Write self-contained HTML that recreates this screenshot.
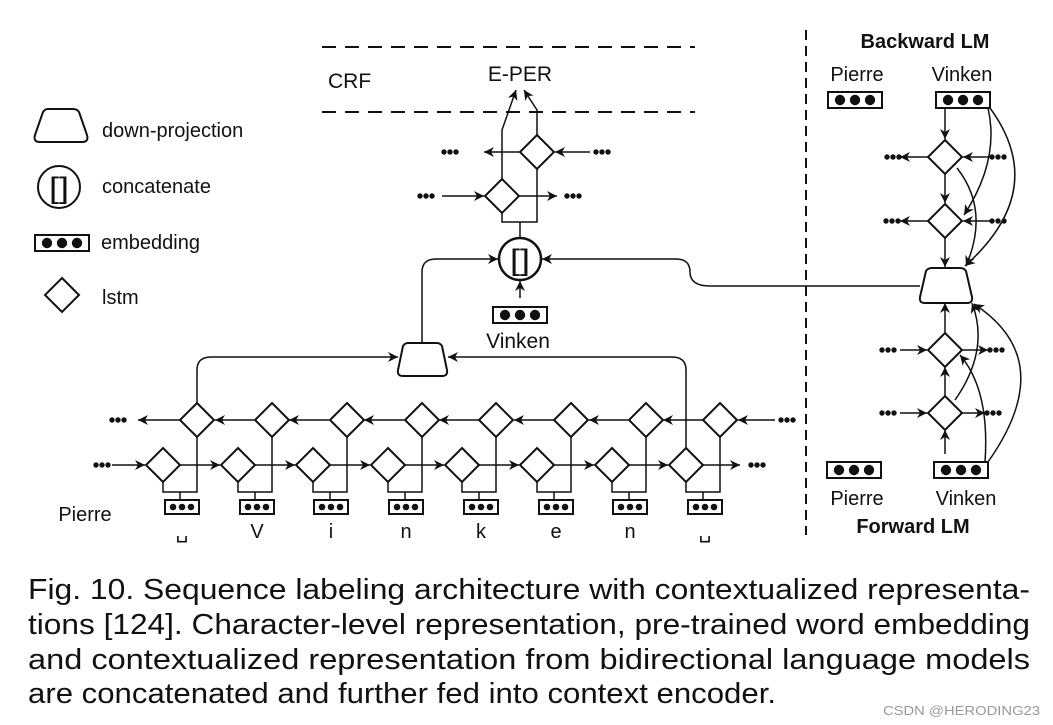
<!DOCTYPE html>
<html><head><meta charset="utf-8"><style>
html,body{margin:0;padding:0;background:#fff;}
svg{display:block;font-family:"Liberation Sans",sans-serif;}
</style></head><body>
<svg width="1053" height="725" viewBox="0 0 1053 725" xmlns="http://www.w3.org/2000/svg">
<defs>
<marker id="a" viewBox="0 0 10 10" refX="10" refY="5" markerWidth="10" markerHeight="10" orient="auto-start-reverse" markerUnits="userSpaceOnUse"><path d="M0,0 L10,5 L0,10 L3,5 z" fill="#111"/></marker>
<g id="dm"><polygon points="0,-17 17,0 0,17 -17,0" fill="#fff" stroke="#111" stroke-width="2"/></g>
<g id="dt" fill="#111"><circle cx="-6" cy="0" r="2.7"/><circle cx="0" cy="0" r="2.7"/><circle cx="6" cy="0" r="2.7"/></g>
<g id="es"><rect x="-17" y="-7" width="34" height="14" fill="#fff" stroke="#111" stroke-width="2"/><g fill="#111"><circle cx="-9" r="3.3"/><circle cx="0" r="3.3"/><circle cx="9" r="3.3"/></g></g>
<g id="eb"><rect x="-27" y="-8" width="54" height="16" fill="#fff" stroke="#111" stroke-width="2"/><g fill="#111"><circle cx="-15" r="5.2"/><circle cx="0" r="5.2"/><circle cx="15" r="5.2"/></g></g>
</defs>
<g stroke="#111" stroke-width="1.5" fill="none">
<line x1="322" y1="47" x2="695" y2="47" stroke-dasharray="14,9" stroke-width="2"/>
<line x1="322" y1="112" x2="695" y2="112" stroke-dasharray="14,9" stroke-width="2"/>
<line x1="806" y1="30" x2="806" y2="535" stroke-dasharray="10,6" stroke-width="2"/>
<path d="M502,179 L502,130 L516,90" marker-end="url(#a)"/>
<path d="M537,135 L537,110 L524,90" marker-end="url(#a)"/>
<path d="M502,213 V222 H537 V169"/>
<line x1="520" y1="222" x2="520" y2="238"/>
<line x1="520" y1="152" x2="484" y2="152" marker-end="url(#a)"/>
<line x1="590" y1="152" x2="555" y2="152" marker-end="url(#a)"/>
<line x1="442" y1="196" x2="484" y2="196" marker-end="url(#a)"/>
<line x1="519" y1="196" x2="557" y2="196" marker-end="url(#a)"/>
<line x1="520" y1="298" x2="520" y2="281" marker-end="url(#a)"/>
<path d="M422,343 V272 Q422,259 436,259 H498" marker-end="url(#a)"/>
<path d="M920,286 H710 Q690,286 690,272 Q690,259 676,259 H542" marker-end="url(#a)"/>
<path d="M197,403 V370 Q197,357 211,357 H398" marker-end="url(#a)"/>
<path d="M686,448 V370 Q686,357 672,357 H448" marker-end="url(#a)"/>
<line x1="112" y1="465" x2="145" y2="465" marker-end="url(#a)"/>
<line x1="180" y1="465" x2="220" y2="465" marker-end="url(#a)"/>
<line x1="255" y1="465" x2="295" y2="465" marker-end="url(#a)"/>
<line x1="330" y1="465" x2="370" y2="465" marker-end="url(#a)"/>
<line x1="405" y1="465" x2="444" y2="465" marker-end="url(#a)"/>
<line x1="479" y1="465" x2="519" y2="465" marker-end="url(#a)"/>
<line x1="554" y1="465" x2="594" y2="465" marker-end="url(#a)"/>
<line x1="629" y1="465" x2="668" y2="465" marker-end="url(#a)"/>
<line x1="703" y1="465" x2="740" y2="465" marker-end="url(#a)"/>
<line x1="775" y1="420" x2="738" y2="420" marker-end="url(#a)"/>
<line x1="703" y1="420" x2="663" y2="420" marker-end="url(#a)"/>
<line x1="628" y1="420" x2="589" y2="420" marker-end="url(#a)"/>
<line x1="554" y1="420" x2="514" y2="420" marker-end="url(#a)"/>
<line x1="479" y1="420" x2="439" y2="420" marker-end="url(#a)"/>
<line x1="404" y1="420" x2="364" y2="420" marker-end="url(#a)"/>
<line x1="329" y1="420" x2="289" y2="420" marker-end="url(#a)"/>
<line x1="254" y1="420" x2="215" y2="420" marker-end="url(#a)"/>
<line x1="180" y1="420" x2="138" y2="420" marker-end="url(#a)"/>
<path d="M163,482 V492 H197 V437 M180,492 V500"/>
<path d="M238,482 V492 H272 V437 M255,492 V500"/>
<path d="M313,482 V492 H347 V437 M330,492 V500"/>
<path d="M388,482 V492 H422 V437 M405,492 V500"/>
<path d="M462,482 V492 H496 V437 M479,492 V500"/>
<path d="M537,482 V492 H571 V437 M554,492 V500"/>
<path d="M612,482 V492 H646 V437 M629,492 V500"/>
<path d="M686,482 V492 H720 V437 M703,492 V500"/>
<line x1="945" y1="100" x2="945" y2="139" marker-end="url(#a)"/>
<line x1="945" y1="174" x2="945" y2="203" marker-end="url(#a)"/>
<line x1="945" y1="238" x2="945" y2="267" marker-end="url(#a)"/>
<line x1="928" y1="157" x2="900" y2="157" marker-end="url(#a)"/>
<line x1="990" y1="157" x2="963" y2="157" marker-end="url(#a)"/>
<line x1="928" y1="221" x2="900" y2="221" marker-end="url(#a)"/>
<line x1="990" y1="221" x2="963" y2="221" marker-end="url(#a)"/>
<path d="M988,108 Q1000,160 964,215" marker-end="url(#a)"/>
<path d="M990,108 Q1050,190 965,266" marker-end="url(#a)"/>
<path d="M957,168 Q990,210 966,266" marker-end="url(#a)"/>
<line x1="945" y1="454" x2="945" y2="430" marker-end="url(#a)"/>
<line x1="945" y1="396" x2="945" y2="367" marker-end="url(#a)"/>
<line x1="945" y1="333" x2="945" y2="303" marker-end="url(#a)"/>
<line x1="900" y1="350" x2="927" y2="350" marker-end="url(#a)"/>
<line x1="962" y1="350" x2="988" y2="350" marker-end="url(#a)"/>
<line x1="900" y1="413" x2="927" y2="413" marker-end="url(#a)"/>
<line x1="962" y1="413" x2="985" y2="413" marker-end="url(#a)"/>
<path d="M985,462 Q990,390 960,355" marker-end="url(#a)"/>
<path d="M988,462 Q1060,360 974,304" marker-end="url(#a)"/>
<path d="M955,400 Q990,350 972,303" marker-end="url(#a)"/>
</g>
<use href="#dm" x="537" y="152"/><use href="#dm" x="502" y="196"/>
<use href="#dt" x="450" y="152"/><use href="#dt" x="602" y="152"/>
<use href="#dt" x="426" y="196"/><use href="#dt" x="573" y="196"/>
<circle cx="520" cy="259" r="21" fill="#fff" stroke="#111" stroke-width="2.5"/>
<text x="520" y="270" font-size="30" text-anchor="middle" fill="#111" textLength="20" lengthAdjust="spacingAndGlyphs">[]</text>
<use href="#eb" x="520" y="315"/>
<text x="518" y="348" font-size="21" text-anchor="middle" fill="#111">Vinken</text>
<text x="328" y="88" font-size="21" fill="#111">CRF</text>
<text x="520" y="81" font-size="21" text-anchor="middle" fill="#111">E-PER</text>
<path d="M408,343 H437 Q440,343 442,346 L447,370 Q448,376 442,376 H403 Q397,376 398,370 L403,346 Q405,343 408,343 Z" fill="#fff" stroke="#111" stroke-width="2"/>
<use href="#dm" x="163" y="465"/><use href="#dm" x="238" y="465"/><use href="#dm" x="313" y="465"/><use href="#dm" x="388" y="465"/><use href="#dm" x="462" y="465"/><use href="#dm" x="537" y="465"/><use href="#dm" x="612" y="465"/><use href="#dm" x="686" y="465"/>
<use href="#dm" x="197" y="420"/><use href="#dm" x="272" y="420"/><use href="#dm" x="347" y="420"/><use href="#dm" x="422" y="420"/><use href="#dm" x="496" y="420"/><use href="#dm" x="571" y="420"/><use href="#dm" x="646" y="420"/><use href="#dm" x="720" y="420"/>
<use href="#dt" x="102" y="465"/><use href="#dt" x="757" y="465"/><use href="#dt" x="118" y="420"/><use href="#dt" x="787" y="420"/>
<use href="#es" x="182" y="507"/><use href="#es" x="257" y="507"/><use href="#es" x="331" y="507"/><use href="#es" x="406" y="507"/><use href="#es" x="481" y="507"/><use href="#es" x="556" y="507"/><use href="#es" x="630" y="507"/><use href="#es" x="705" y="507"/>
<g font-size="20" fill="#111" text-anchor="middle">
<text x="85" y="521">Pierre</text>
<text x="182" y="538">␣</text><text x="257" y="538">V</text><text x="331" y="538">i</text><text x="406" y="538">n</text><text x="481" y="538">k</text><text x="556" y="538">e</text><text x="630" y="538">n</text><text x="705" y="538">␣</text>
</g>
<text x="925" y="48" font-size="20" font-weight="bold" text-anchor="middle" fill="#111">Backward LM</text>
<text x="913" y="533" font-size="20" font-weight="bold" text-anchor="middle" fill="#111">Forward LM</text>
<g font-size="20" fill="#111" text-anchor="middle">
<text x="857" y="81">Pierre</text><text x="962" y="81">Vinken</text>
<text x="857" y="505">Pierre</text><text x="966" y="505">Vinken</text>
</g>
<use href="#eb" x="855" y="100"/><use href="#eb" x="963" y="100"/>
<use href="#eb" x="854" y="470"/><use href="#eb" x="961" y="470"/>
<use href="#dm" x="945" y="157"/><use href="#dm" x="945" y="221"/>
<use href="#dm" x="945" y="350"/><use href="#dm" x="945" y="413"/>
<use href="#dt" x="893" y="157"/><use href="#dt" x="998" y="157"/>
<use href="#dt" x="892" y="221"/><use href="#dt" x="998" y="221"/>
<use href="#dt" x="888" y="350"/><use href="#dt" x="996" y="350"/>
<use href="#dt" x="888" y="413"/><use href="#dt" x="993" y="413"/>
<path d="M932,268 H960 Q964,268 966,271 L972,297 Q973,303 967,303 H925 Q919,303 920,297 L926,271 Q928,268 932,268 Z" fill="#fff" stroke="#111" stroke-width="2"/>
<path d="M48,109 H73 Q77,109 79,112 L87,135 Q89,142 82,142 H40 Q33,142 35,135 L43,112 Q45,109 48,109 Z" fill="#fff" stroke="#111" stroke-width="2"/>
<circle cx="59" cy="187" r="21" fill="#fff" stroke="#111" stroke-width="2"/>
<text x="59" y="198" font-size="30" text-anchor="middle" fill="#111" textLength="20" lengthAdjust="spacingAndGlyphs">[]</text>
<g transform="translate(62,243)"><rect x="-27" y="-8" width="54" height="16" fill="#fff" stroke="#111" stroke-width="2"/><g fill="#111"><circle cx="-15" r="5.2"/><circle cx="0" r="5.2"/><circle cx="15" r="5.2"/></g></g>
<use href="#dm" x="62" y="295"/>
<g font-size="20" fill="#111">
<text x="102" y="137">down-projection</text>
<text x="102" y="193">concatenate</text>
<text x="101" y="249">embedding</text>
<text x="102" y="304">lstm</text>
</g>
<g font-size="29" fill="#111">
<text x="28" y="599" textLength="1002" lengthAdjust="spacingAndGlyphs">Fig. 10. Sequence labeling architecture with contextualized representa-</text>
<text x="28" y="634" textLength="1002" lengthAdjust="spacingAndGlyphs">tions [124]. Character-level representation, pre-trained word embedding</text>
<text x="28" y="669" textLength="1002" lengthAdjust="spacingAndGlyphs">and contextualized representation from bidirectional language models</text>
<text x="28" y="703" textLength="748" lengthAdjust="spacingAndGlyphs">are concatenated and further fed into context encoder.</text>
</g>
<text x="883" y="715" font-size="13" fill="#999" textLength="157" lengthAdjust="spacingAndGlyphs">CSDN @HERODING23</text>
</svg>
</body></html>
